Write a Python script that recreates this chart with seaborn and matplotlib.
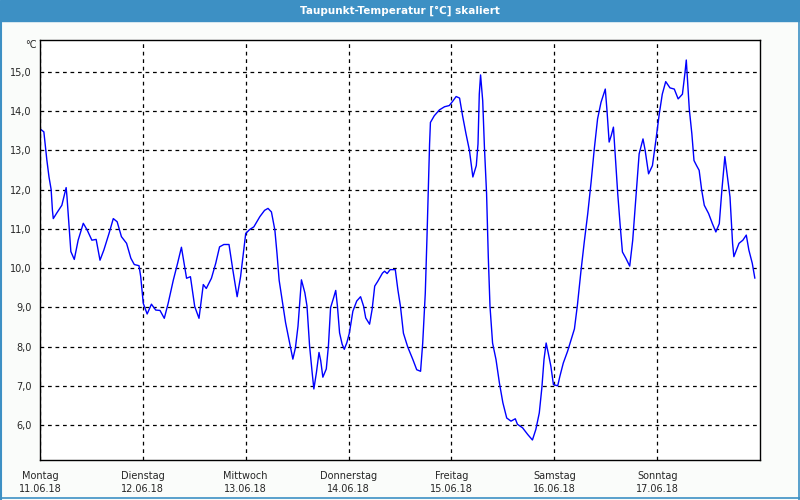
import numpy as np
import pandas as pd
import matplotlib
matplotlib.use("Agg")
import matplotlib.pyplot as plt
from matplotlib.lines import Line2D
from matplotlib.patches import Rectangle
import seaborn as sns

# Stunden seit Montag 00:00 und Taupunkt in °C
stunden = [0.2, 0.9, 1.6, 2.1, 2.6, 2.9, 3.1, 3.9, 5.1, 6.1, 6.3, 6.8, 7.2, 8.0, 8.9,
           10.1, 11.0, 12.1, 13.1, 14.0, 14.9, 16.1, 17.1, 18.0, 19.0, 20.2, 21.2, 22.0,
           23.1, 23.5, 24.1, 25.0, 26.0, 27.0, 28.0, 29.0, 29.9, 31.1, 32.1, 33.0, 34.2,
           35.1, 36.1, 37.1, 38.1, 38.8, 40.0, 41.0, 41.9, 42.9, 44.1, 45.0, 46.0, 46.8,
           48.0, 48.9, 49.9, 51.3, 52.4, 53.2, 54.0, 54.8, 55.3, 55.8, 56.6, 57.3, 58.3,
           59.0, 59.6, 60.2, 61.0, 61.8, 62.3, 62.9, 63.5, 63.9, 64.5, 65.1, 65.5, 66.0,
           66.8, 67.3, 67.8, 68.5, 69.0, 69.4, 69.9, 70.5, 71.0, 71.6, 72.2, 73.0, 73.9,
           74.8, 75.5, 76.0, 76.9, 77.5, 78.1, 78.8, 79.9, 80.4, 81.0, 81.7, 82.9, 83.5,
           84.1, 84.8, 85.8, 87.0, 87.9, 88.8, 89.3, 89.9, 90.3, 90.6, 90.9, 91.1, 92.0,
           93.2, 94.4, 95.5, 96.3, 97.1, 97.9, 98.6, 99.4, 100.2, 101.0, 101.8, 102.2,
           102.5, 102.8, 103.3, 103.7, 104.2, 104.6, 105.0, 105.6, 106.4, 107.2, 108.0,
           108.9, 109.9, 110.9, 111.4, 112.6, 113.8, 114.9, 115.7, 116.5, 117.1, 117.6,
           118.1, 118.6, 119.2, 119.8, 120.8, 121.3, 122.1, 123.1, 124.7, 125.4, 126.2,
           127.0, 127.8, 128.6, 129.3, 130.1, 130.9, 131.9, 132.3, 132.8, 133.3, 133.8,
           134.2, 134.8, 135.4, 135.9, 136.7, 137.6, 138.3, 139.0, 139.8, 140.7, 141.2,
           142.0, 142.9, 143.7, 144.5, 145.2, 146.0, 147.0, 148.0, 148.9, 149.9, 150.5,
           150.8, 151.5, 152.1, 152.6, 153.2, 153.8, 154.4, 155.0, 156.0, 156.9, 157.7,
           158.5, 159.1, 159.8, 160.4, 161.0, 161.6, 161.9, 162.5, 163.1, 164.0, 164.8,
           165.4, 166.2, 166.8]
taupunkt = [13.53, 13.47, 12.75, 12.32, 12.0, 11.47, 11.26, 11.4, 11.6, 12.05, 11.81,
            11.05, 10.42, 10.22, 10.71, 11.14, 10.97, 10.71, 10.73, 10.2, 10.46, 10.88,
            11.26, 11.18, 10.8, 10.63, 10.25, 10.09, 10.06, 9.78, 9.1, 8.83, 9.08, 8.93,
            8.92, 8.72, 9.1, 9.69, 10.12, 10.53, 9.74, 9.78, 9.02, 8.72, 9.58, 9.48, 9.74,
            10.12, 10.54, 10.6, 10.6, 9.95, 9.27, 9.78, 10.88, 10.98, 11.05, 11.31, 11.47,
            11.52, 11.43, 10.97, 10.37, 9.69, 9.11, 8.61, 8.06, 7.68, 7.97, 8.52, 9.70,
            9.37, 9.03, 8.02, 7.34, 6.92, 7.34, 7.85, 7.64, 7.22, 7.43, 8.02, 8.99, 9.24,
            9.43, 9.03, 8.35, 8.06, 7.93, 8.10, 8.35, 8.90, 9.16, 9.27, 9.03, 8.73, 8.57,
            8.95, 9.54, 9.66, 9.87, 9.92, 9.86, 9.96, 9.96, 9.45, 9.03, 8.34, 7.99, 7.67,
            7.41, 7.37, 8.09, 9.36, 10.80, 11.98, 13.16, 13.71, 13.88, 14.03, 14.11, 14.14,
            14.25, 14.37, 14.33, 13.88, 13.42, 13.0, 12.32, 12.61, 13.16, 14.43, 14.92,
            14.26, 13.08, 11.90, 10.29, 9.02, 8.09, 7.67, 7.07, 6.57, 6.18, 6.10, 6.16,
            6.02, 5.93, 5.76, 5.62, 5.89, 6.31, 6.95, 7.67, 8.09, 7.83, 7.50, 7.03, 7.0,
            7.24, 7.58, 7.88, 8.45, 9.06, 9.9, 10.67, 11.38, 12.2, 13.0, 13.8, 14.22,
            14.56, 14.01, 13.21, 13.38, 13.59, 12.91, 11.90, 11.05, 10.41, 10.25, 10.05,
            10.71, 11.73, 12.91, 13.29, 13.0, 12.40, 12.61, 13.25, 13.93, 14.43, 14.75,
            14.59, 14.56, 14.31, 14.43, 14.98, 15.30, 14.05, 13.42, 12.74, 12.61, 12.49,
            11.98, 11.60, 11.39, 11.13, 10.92, 11.13, 11.98, 12.84, 12.32, 11.81, 10.63,
            10.29, 10.46, 10.63, 10.71, 10.84, 10.46, 10.12, 9.74]

tage = ["Montag", "Dienstag", "Mittwoch", "Donnerstag", "Freitag", "Samstag", "Sonntag"]
daten = ["11.06.18", "12.06.18", "13.06.18", "14.06.18", "15.06.18", "16.06.18", "17.06.18"]
y_ticks = [6, 7, 8, 9, 10, 11, 12, 13, 14, 15]

df = pd.DataFrame({"stunde": stunden, "temp": taupunkt})

sns.set_style("white")
plt.rcParams["font.family"] = ["DejaVu Sans"]

blau = "#3d90c4"
fig = plt.figure(figsize=(8, 5), dpi=100, facecolor="#fafcfa")
# Titelleiste und Fensterrahmen
fig.patches.append(Rectangle((0, 0.958), 1, 0.042, transform=fig.transFigure,
                             color=blau, zorder=0))
for xs, ys, lw in [([0.001, 0.001], [0, 0.96], 1.5),
                   ([0.9985, 0.9985], [0, 0.96], 1.2),
                   ([0, 1], [0.004, 0.004], 1.2)]:
    fig.add_artist(Line2D(xs, ys, transform=fig.transFigure, color=blau, linewidth=lw))
fig.text(0.5, 0.979, "Taupunkt-Temperatur [°C] skaliert", color="white",
         ha="center", va="center", fontsize=7.5, fontweight="bold")

ax = fig.add_axes([0.05, 0.08, 0.90, 0.84])
ax.set_facecolor("white")
sns.lineplot(data=df, x="stunde", y="temp", ax=ax, color="#0000ff", linewidth=1)

ax.set_xlim(0, 168)
ax.set_ylim(5.11, 15.81)
ax.set_xticks([24 * i for i in range(len(tage))])
ax.set_xticklabels([f"{t}\n{d}" for t, d in zip(tage, daten)], fontsize=7, linespacing=1.4)
ax.set_yticks(y_ticks)
ax.set_yticklabels([f"{v:.1f}".replace(".", ",") for v in y_ticks], fontsize=7)
ax.tick_params(axis="x", direction="out", length=3, width=1, color="black", pad=5)
ax.tick_params(axis="y", length=0, pad=6)
ax.grid(True, color="black", linestyle=(0, (3, 3)), linewidth=0.9)
for s in ax.spines.values():
    s.set_color("black")
    s.set_linewidth(1.0)
ax.set_xlabel("")
ax.set_ylabel("")
ax.text(-0.005, 1.0, "°C", transform=ax.transAxes, ha="right", va="top", fontsize=7)

fig.savefig("out.png", dpi=100, facecolor=fig.get_facecolor())
